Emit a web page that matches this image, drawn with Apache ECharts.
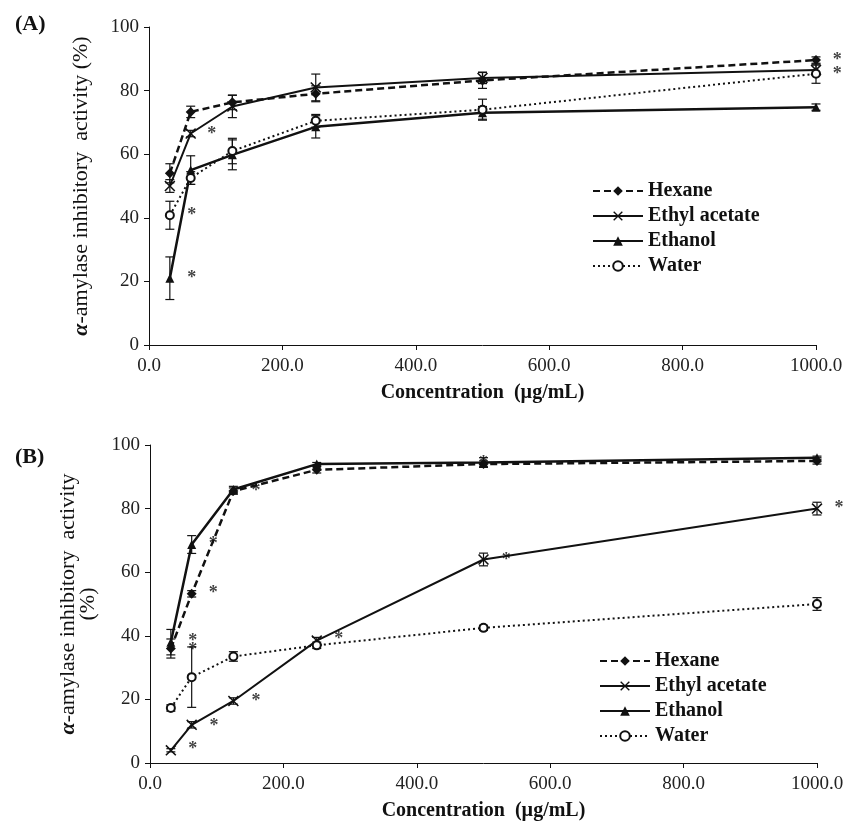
<!DOCTYPE html>
<html>
<head>
<meta charset="utf-8">
<script src="https://cdn.jsdelivr.net/npm/echarts@6/dist/echarts.min.js"></script>
<style>
  html, body { margin: 0; padding: 0; background: #fff; }
  #chart { width: 849px; height: 830px; }
</style>
</head>
<body>
<div id="chart"></div>
<script>
'use strict';
// α-amylase inhibition of four extracts — panels (A) and (B)

const CONC = [31.25, 62.5, 125, 250, 500, 1000];
const X_TICKS = [0, 200, 400, 600, 800, 1000];
const NAMES = ['Hexane', 'Ethyl acetate', 'Ethanol', 'Water'];

// panel A — means and SD
const hexA = [54, 73.3, 76.3, 79, 83.2, 89.6];
const ethylA = [50, 66.5, 75, 81, 84, 86.5];
const ethanolA = [21, 55, 59.8, 68.6, 73, 74.8];
const waterA = [40.8, 52.5, 61, 70.5, 74, 85.3];
const sdHexA = [3, 1.8, 2.3, 2.5, 2.5, 1];
const sdEthylA = [2, 1, 3.5, 4.2, 1.8, 1.5];
const sdEthanolA = [6.7, 4.5, 4.7, 3.5, 2, 1];
const sdWaterA = [4.4, 2, 4, 2, 3.3, 3];
const starsA = [[94, 67.4], [64, 41.9], [64, 22.3], [1032, 90.7], [1032, 86.3]];

// panel B
const hexB = [36, 53.2, 85.5, 92.2, 94, 95];
const ethylB = [4, 12, 19.5, 38.5, 64, 80];
const ethanolB = [38, 68.7, 86, 94, 94.5, 96];
const waterB = [17.3, 27, 33.5, 37, 42.5, 50];
const sdHexB = [3, 1, 1, 1, 1, 1];
const sdEthylB = [0.5, 1, 1, 1, 2, 2];
const sdEthanolB = [4, 2.8, 1, 0.5, 1.5, 0.5];
const sdWaterB = [1, 9.5, 1.5, 1, 0.8, 2];
const starsB = [[95, 69.9], [95, 54.5], [64, 39.5], [64, 36.7], [96, 12.9], [64, 5.4],
  [159, 20.6], [283, 40.1], [159, 86.8], [534, 65], [1033, 81.2], [500, 95.5]];

const INK = '#111';
const SERIF = "'Liberation Serif','DejaVu Serif',serif";
const XMARK = 'path://M0,1L1,0L5,4L9,0L10,1L6,5L10,9L9,10L5,6L1,10L0,9L4,5Z';

const STYLE = {
  'Hexane': { symbol: 'diamond', size: 10, line: { type: [7, 4], width: 2.5 } },
  'Ethyl acetate': { symbol: XMARK, size: 11, line: { type: 'solid', width: 2 } },
  'Ethanol': { symbol: 'triangle', size: 9, line: { type: 'solid', width: 2.5 } },
  'Water': { symbol: 'emptyCircle', size: 8, line: { type: [2, 3], width: 2 } }
};

function pairs(ys) { return CONC.map((x, i) => [x, ys[i]]); }
function triples(ys, sd) { return CONC.map((x, i) => [x, ys[i], sd[i]]); }

function lineSeries(name, ys, idx) {
  const s = STYLE[name];
  return {
    name, type: 'line', xAxisIndex: idx, yAxisIndex: idx, data: pairs(ys),
    symbol: s.symbol, symbolSize: s.size, z: 3,
    lineStyle: { color: INK, width: s.line.width, type: s.line.type },
    itemStyle: { color: INK, borderColor: INK, borderWidth: name === 'Water' ? 1.1 : 0 },
    emphasis: { disabled: true }
  };
}

function errSeries(name, ys, sd, idx) {
  return {
    name: name + ' sd', type: 'custom', xAxisIndex: idx, yAxisIndex: idx, z: 2,
    data: triples(ys, sd), encode: { x: 0, y: 1 },
    renderItem: (params, api) => {
      const x = api.value(0), y = api.value(1), e = api.value(2);
      const top = api.coord([x, y + e]), bot = api.coord([x, y - e]);
      const st = { stroke: INK, lineWidth: 1.2 };
      return {
        type: 'group', children: [
          { type: 'line', shape: { x1: top[0], y1: top[1], x2: bot[0], y2: bot[1] }, style: st },
          { type: 'line', shape: { x1: top[0] - 4.5, y1: top[1], x2: top[0] + 4.5, y2: top[1] }, style: st },
          { type: 'line', shape: { x1: bot[0] - 4.5, y1: bot[1], x2: bot[0] + 4.5, y2: bot[1] }, style: st }
        ]
      };
    }
  };
}

function starSeries(pts, idx) {
  return {
    name: 'sig' + idx, type: 'scatter', xAxisIndex: idx, yAxisIndex: idx, data: pts,
    symbolSize: 1, itemStyle: { color: 'rgba(0,0,0,0)' }, clip: false, silent: true,
    label: { show: true, position: 'inside', formatter: '*', offset: [0, 4], fontFamily: SERIF, fontSize: 18, fontWeight: 'bold', color: INK }
  };
}

const tickLabel = { fontFamily: SERIF, fontSize: 19, color: '#222' };

function xAxis(idx) {
  return {
    type: 'value', gridIndex: idx, min: X_TICKS[0], max: X_TICKS[X_TICKS.length - 1], interval: 200,
    name: 'Concentration  (µg/mL)', nameLocation: 'middle', nameGap: 38,
    nameTextStyle: { fontFamily: SERIF, fontSize: 20, fontWeight: 'bold', color: INK },
    axisLine: { lineStyle: { color: INK, width: 1 } },
    axisTick: { length: 5, lineStyle: { color: INK } },
    axisLabel: Object.assign({ margin: 12, formatter: v => v.toFixed(1) }, tickLabel),
    splitLine: { show: false }
  };
}

function yAxis(idx, name, gap) {
  return {
    type: 'value', gridIndex: idx, min: 0, max: 100, interval: 20,
    name, nameLocation: 'middle', nameGap: gap,
    nameTextStyle: { fontFamily: SERIF, fontSize: 22, color: INK, lineHeight: 20,
      rich: { a: { fontFamily: SERIF, fontSize: 22, fontWeight: 'bold', fontStyle: 'italic', color: INK } } },
    axisLine: { show: true, lineStyle: { color: INK, width: 1 } },
    axisTick: { show: true, length: 5, lineStyle: { color: INK } },
    axisLabel: Object.assign({ margin: 10 }, tickLabel),
    splitLine: { show: false }
  };
}

function legend(left, top) {
  return {
    data: NAMES, orient: 'vertical', left, top, itemWidth: 50, itemHeight: 12, itemGap: 5,
    selectedMode: false,
    textStyle: { fontFamily: SERIF, fontSize: 20, fontWeight: 'bold', color: INK }
  };
}

const series = [];
[[hexA, ethylA, ethanolA, waterA], [hexB, ethylB, ethanolB, waterB]].forEach((set, idx) => {
  set.forEach((ys, k) => series.push(lineSeries(NAMES[k], ys, idx)));
});
[[sdHexA, sdEthylA, sdEthanolA, sdWaterA], [sdHexB, sdEthylB, sdEthanolB, sdWaterB]].forEach((sds, idx) => {
  const ysets = idx === 0 ? [hexA, ethylA, ethanolA, waterA] : [hexB, ethylB, ethanolB, waterB];
  sds.forEach((sd, k) => series.push(errSeries(NAMES[k], ysets[k], sd, idx)));
});
series.push(starSeries(starsA, 0), starSeries(starsB, 1));

const chart = echarts.init(document.getElementById('chart'), null, { renderer: 'canvas' });
chart.setOption({
  backgroundColor: '#fff',
  animation: false,
  title: [
    { text: '(A)', left: 10, top: 8, textStyle: { fontFamily: SERIF, fontSize: 22, fontWeight: 'bold', color: INK } },
    { text: '(B)', left: 10, top: 441, textStyle: { fontFamily: SERIF, fontSize: 22, fontWeight: 'bold', color: INK } }
  ],
  legend: [legend(587, 176), legend(594, 646)],
  grid: [
    { left: 149, top: 27, width: 667, height: 318 },
    { left: 150, top: 445, width: 667, height: 318 }
  ],
  xAxis: [xAxis(0), xAxis(1)],
  yAxis: [
    yAxis(0, '{a|α}-amylase inhibitory  activity (%)', 58),
    yAxis(1, '{a|α}-amylase inhibitory  activity\n(%)', 52)
  ],
  series
});
</script>
</body>
</html>
